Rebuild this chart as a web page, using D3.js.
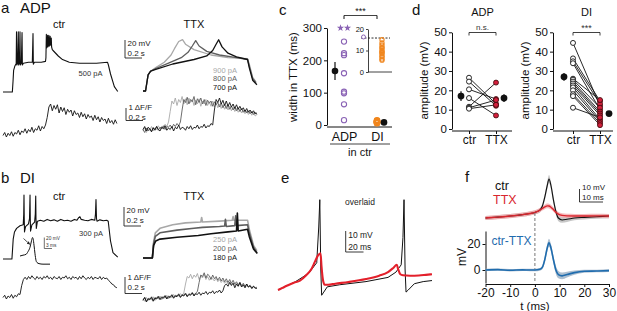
<!DOCTYPE html>
<html><head><meta charset="utf-8">
<script src="https://cdn.jsdelivr.net/npm/d3@7"></script>
<style>body{margin:0;background:#fff}svg{display:block;font-family:"Liberation Sans",Arial,sans-serif}</style>
</head><body><svg id="fig" width="617" height="311"></svg>
<script>
// ---------------- DATA ----------------
// panel a, ctr membrane potential [ms, mV above rest]
const aCtrV = [[0,0],[110,0],[118,12],[125,24],[140,29],[152,31],[155,31],[159,67],[163,30],[172,32],[180,67],[184,30],[193,32],[200,67],[204,30],[216,32],[224,66],[228,30],[240,32],[300,33],[345,33],[353,65],[357,31],[370,33],[450,33],[500,34],[505,38],[510,64],[514,49],[520,52],[525,63],[529,50],[535,53],[540,63],[544,51],[550,53],[555,62],[559,52],[564,54],[568,60],[572,50],[580,47],[600,45],[650,40],[700,36],[780,33],[900,32],[1100,32],[1230,33],[1240,30],[1265,20],[1310,6],[1350,0.5]];
// panel a, ctr calcium (dF/F, 20 ms steps)
const aCtrCa = [0.1,0.3,0.0,0.25,0.1,0.35,0.05,0.3,0.2,0.45,0.15,0.4,0.3,0.55,0.25,0.5,0.35,0.65,0.3,0.55,0.45,0.75,0.4,0.7,0.55,0.8,1.3,2.0,2.2,1.75,2.1,1.85,2.15,1.6,2.0,1.7,1.95,1.5,1.85,1.65,1.8,1.4,1.75,1.5,1.6,1.3,1.65,1.35,1.55,1.2,1.5,1.3,1.4,1.1,1.45,1.15,1.35,1.0,1.3,1.1,1.2,0.9,1.25,0.95,1.1,0.85,1.15,0.9];
// panel a, TTX membrane potential: 900, 800, 700 pA
const aTtxV900 = [[0,0],[30,0],[60,18],[90,22],[150,26],[250,32],[330,40],[370,47],[420,55],[465,57],[500,52],[600,46],[800,40],[1000,37],[1230,36],[1250,30],[1290,15],[1330,10]];
const aTtxV800 = [[0,0],[30,0],[60,18],[90,22],[150,25],[300,31],[450,37],[530,43],[580,50],[620,56],[660,50],[750,44],[900,40],[1100,37],[1230,35],[1250,28],[1290,14],[1330,9]];
const aTtxV700 = [[0,0],[30,0],[60,18],[90,22],[150,24],[350,30],[600,35],[750,39],[820,45],[860,52],[890,57],[930,49],[1000,42],[1100,38],[1230,35],[1250,26],[1290,12],[1340,7]];
// panel a, TTX calcium (20 ms steps)
const aTtxCa900 = [0.2,0.45,0.1,0.35,0.25,0.5,0.2,0.4,0.3,0.55,0.35,0.5,0.4,0.65,0.5,0.8,1.5,2.2,2.0,2.4,1.9,2.3,2.1,2.5,2.0,2.35,1.95,2.4,2.1,2.3,1.9,2.25,2.0,2.35,1.85,2.2,2.0,2.3,1.9,2.15,1.85,2.2,1.8,2.1,1.75,2.0,1.7,1.95,1.65,1.9,1.6,1.85,1.55,1.8,1.5,1.7,1.45,1.65,1.4,1.6,1.35,1.55,1.3,1.5,1.25,1.45,1.2,1.3];
const aTtxCa800 = [0.3,0.1,0.4,0.2,0.35,0.15,0.45,0.3,0.5,0.25,0.45,0.35,0.55,0.3,0.5,0.45,0.6,0.4,0.65,0.5,0.7,0.55,0.8,1.6,2.3,2.1,2.45,2.0,2.3,2.15,2.5,1.95,2.35,2.1,2.4,2.0,2.3,1.9,2.25,2.05,2.2,1.85,2.15,1.95,2.1,1.8,2.05,1.75,2.0,1.7,1.95,1.65,1.85,1.6,1.8,1.55,1.75,1.5,1.7,1.45,1.6,1.4,1.55,1.35,1.5,1.3,1.45,1.3];
const aTtxCa700 = [0.3,0.5,0.2,0.45,0.35,0.15,0.4,0.25,0.5,0.3,0.2,0.45,0.35,0.55,0.25,0.4,0.3,0.5,0.2,0.45,0.35,0.6,0.3,0.45,0.4,0.25,0.5,0.35,0.55,0.3,0.45,0.4,0.6,0.35,0.5,0.45,0.65,0.4,0.55,0.5,0.7,0.6,1.6,2.3,2.1,2.4,2.0,2.25,1.9,2.2,1.85,2.1,1.8,2.0,1.7,1.95,1.65,1.85,1.6,1.75,1.5,1.7,1.45,1.6,1.4,1.55,1.35,1.4];
// panel b, ctr membrane potential
const bCtrV = [[0,0],[105,0],[112,10],[120,22],[135,30],[160,34],[200,37],[238,38],[244,50],[247,71],[250,45],[253,30],[265,36],[300,39],[312,45],[318,71],[321,45],[324,31],[340,38],[372,41],[380,50],[385,70],[388,45],[392,34],[405,42],[440,43],[480,42],[520,44],[560,42.5],[600,43.5],[640,42],[680,44],[720,42.5],[760,43],[800,42],[840,44],[870,43],[890,46],[905,47],[920,44],[960,43],[1000,42.5],[1040,44],[1080,43],[1088,50],[1094,66],[1100,45],[1106,42],[1140,43.5],[1180,42.5],[1220,43],[1238,42],[1250,32],[1265,20],[1294,7],[1350,2]];
// panel b inset (expanded AP) [ms, mV]
const bInset = [[0,0],[3,1.5],[6,3],[8,8],[10,16],[11.5,28],[12.5,34],[13.2,31],[14,20],[15,4],[16,-8],[17,-12],[19,-14],[23,-15],[30,-15]];
// panel b, ctr calcium
const bCtrCa = [0.1,0.25,0.0,0.2,0.1,0.3,0.05,0.25,0.15,0.35,0.3,0.9,1.3,1.45,1.3,1.5,1.35,1.55,1.4,1.3,1.5,1.35,1.45,1.3,1.5,1.4,1.55,1.35,1.45,1.3,1.5,1.4,1.35,1.5,1.3,1.45,1.4,1.55,1.35,1.45,1.3,1.5,1.4,1.45,1.3,1.5,1.35,1.55,1.4,1.3,1.45,1.35,1.5,1.3,1.45,1.4,1.35,1.5,1.3,1.45,1.35,1.4,1.25,1.15,1.0,0.95,0.8,0.75];
// panel b, TTX membrane potential: 250, 200, 180 pA
const bTtxV250 = [[0,0],[110,0],[125,18],[145,28],[200,33],[350,37],[500,39],[680,40],[690,45],[700,40],[900,41],[1050,42],[1060,46],[1070,42],[1230,42],[1250,32],[1300,14],[1340,8]];
const bTtxV200 = [[0,0],[110,0],[125,16],[145,24],[200,28],[400,31],[600,33],[700,34],[900,35],[960,35.5],[970,43],[980,35],[1080,36],[1090,47],[1100,36],[1230,37],[1250,28],[1300,12],[1340,6]];
const bTtxV180 = [[0,0],[110,0],[125,14],[150,19],[200,21],[400,23],[650,25],[800,27],[1000,29],[1100,30],[1110,50],[1120,30],[1230,32],[1250,24],[1300,10],[1345,5]];
// panel b, TTX calcium
const bTtxCa250 = [0.2,0.05,0.3,0.1,0.25,0.15,0.35,0.1,0.3,0.2,0.4,0.15,0.35,0.25,0.45,0.2,0.4,0.3,0.5,0.35,0.45,0.4,0.55,0.45,0.6,1.2,1.7,1.6,1.85,1.55,1.8,1.65,1.9,1.5,1.75,1.6,1.85,1.5,1.7,1.45,1.65,1.55,1.4,1.6,1.35,1.5,1.3,1.45,1.25,1.4,1.2,1.35,1.15,1.3,1.1,1.25,1.05,1.2,1.0,1.15,0.95,1.1,1.0,1.05,0.9,1.0,0.95,0.9];
const bTtxCa200 = [0.15,0.3,0.05,0.25,0.2,0.35,0.1,0.3,0.25,0.4,0.2,0.35,0.3,0.45,0.25,0.4,0.35,0.5,0.3,0.45,0.4,0.55,0.35,0.5,0.45,0.6,0.4,0.55,0.5,0.65,0.45,0.6,0.7,1.3,1.8,1.7,1.95,1.6,1.85,1.75,1.5,1.8,1.55,1.7,1.45,1.65,1.4,1.6,1.35,1.55,1.3,1.5,1.25,1.45,1.2,1.35,1.15,1.3,1.1,1.25,1.05,1.2,1.0,1.1,0.95,1.05,0.9,1.0];
const bTtxCa180 = [0.1,0.3,0.0,0.2,0.15,0.3,0.05,0.25,0.2,0.35,0.15,0.3,0.25,0.4,0.2,0.35,0.3,0.45,0.25,0.4,0.35,0.5,0.3,0.45,0.4,0.55,0.35,0.5,0.45,0.6,0.4,0.55,0.5,0.65,0.45,0.6,0.55,0.7,0.5,0.65,0.6,0.75,0.55,0.7,0.65,0.8,0.6,0.75,1.1,1.2,1.05,1.3,1.1,1.25,0.95,1.2,1.05,1.3,1.0,1.15,0.95,1.2,1.0,1.1,0.9,1.05,0.95,0.9];
const stepsLabelsA = ["900 pA","800 pA","700 pA"];
const stepsLabelsB = ["250 pA","200 pA","180 pA"];
// panel c: width in TTX (ms)
const cAdp = [258,222,216,160,103,98,64,15];
const cAdpCapped = [300,300];
const cDi = [15,13.5,12.5,11.5,11,10,9.5,9,8.5,7.5,7,6,5.5];
const cMean = [167,8];
const cSem = [28,1];
const cCats = ["ADP","DI"];
const cTicks = [0,100,200,300];
const cInsetTicks = [0,10,20];
const cInsetAdp = [16.3];
const cThreshold = 15.8;
// panel d: amplitudes (mV)
const dAdpCtr = [26.5,24.5,20.5,16,11.5,11,10.5];
const dAdpTtx = [13,12,15.5,7,24,15,12.5];
const dDiCtr = [44.5,36.5,35,34,26,25.5,24.5,23.5,22.5,21.5,20,18,17,11];
const dDiTtx = [12,14.5,13,10,15,11,9,8,7,5,4,3,2,6];
const dAdpMean = [17,16], dAdpSem = [2.5,2];
const dDiMean = [27,8], dDiSem = [2,1];
const dCats = ["ctr","TTX"];
const dTicks = [0,10,20,30,40,50];
// panel e: overlaid traces [ms, mV]
const eCtr = [[0,0],[20,4],[35,8],[44,13],[46.3,30],[47.5,43],[48.6,10],[49.6,-2.5],[52,-1],[56,1.5],[70,2.5],[100,4],[125,6],[134,8.5],[140,12],[142,25],[143.2,43],[144.4,10],[145.5,-1],[148,0],[155,3],[165,4],[175,4.5]];
const eTtx = [[0,0],[5,1],[10,2],[18,3.5],[25,4.5],[32,7],[38,10],[42,13.5],[45.5,16.5],[48.3,17.5],[49.5,11],[51,5],[53,2.5],[57,2.5],[65,3],[80,3.8],[100,5.2],[115,6.8],[125,8.5],[131,10.5],[135,12],[136.5,10],[139,7.5],[142,7],[150,6.8],[160,6.9],[168,7.2],[175,7.5]];
// panel f: averages
const fTime = [-20,-15,-10,-5,-2,0,2,3,4,5,5.7,6.5,7.5,8.5,9.5,11,13,16,20,25,30];
const fCtr  = [0,0.7,1.5,2.6,3.5,4.3,6,9,16,25,30,25,14,5,0,-1.5,-1,0,0.5,1,1.5];
const fCtrSem=[1.5,1.5,1.5,1.5,1.5,1.5,1.7,2,2.5,3,3,3,3,2.5,2.5,2.2,2,1.8,1.6,1.6,1.6];
const fTtx  = [0,0.7,1.5,2.6,3.5,4.3,6,7.3,8.5,9.3,9.2,8.3,6.5,4.5,3,2,1.6,1.5,1.5,1.6,1.5];
const fTtxSem=[1.6,1.6,1.6,1.6,1.6,1.6,1.6,1.6,1.7,1.8,1.8,1.8,1.7,1.6,1.6,1.6,1.6,1.6,1.6,1.6,1.6];
const fDiff = [0,0.3,-0.2,0.1,0,0,0.5,2,8,17,21,17,8,0,-3.5,-4.5,-3.5,-2,-1,-0.8,-0.5];
const fDiffSem=[0.9,0.9,0.9,0.9,0.9,0.9,1,1.5,2.5,3,3,3,3,3,2.8,2.6,2.2,1.6,1.2,1,1];
const fXTicks = [-20,-10,0,10,20,30];
const fYTicks = [0,20];

// ---------------- DRAWING ----------------
const svg = d3.select("#fig");
svg.append("rect").attr("width",617).attr("height",311).attr("fill","#fff");

function txt(x,y,s,o={}){
  const t = svg.append("text").attr("x",x).attr("y",y).text(s)
    .attr("font-size",o.size||11).attr("fill",o.color||"#111")
    .attr("text-anchor",o.anchor||"start");
  if(o.rot) t.attr("transform",`rotate(${o.rot},${x},${y})`);
  return t;
}
function path(data, xs, ys, color, w, curve){
  svg.append("path").datum(data)
    .attr("d", d3.line().x(d=>xs(d[0])).y(d=>ys(d[1])).curve(curve||d3.curveLinear))
    .attr("fill","none").attr("stroke",color).attr("stroke-width",w).attr("stroke-linejoin","round");
}
function series(vals, step, xs, ys, color, w){
  svg.append("path").datum(vals)
    .attr("d", d3.line().x((d,i)=>xs(i*step)).y(d=>ys(d)))
    .attr("fill","none").attr("stroke",color).attr("stroke-width",w).attr("stroke-linejoin","round");
}
function seg(x1,y1,x2,y2,color,w,dash){
  const l=svg.append("line").attr("x1",x1).attr("y1",y1).attr("x2",x2).attr("y2",y2)
    .attr("stroke",color||"#111").attr("stroke-width",w||1);
  if(dash) l.attr("stroke-dasharray",dash);
  return l;
}
function scaleBar(x,yTop,yBot,xRight,l1,l2,y1,y2,size){
  seg(x,yTop,x,yBot,"#222",0.9); seg(x,yBot,xRight,yBot,"#222",0.9);
  txt(x+2.5,y1,l1,{size:size||8,color:"#222"}); txt(x+2.5,y2,l2,{size:size||8,color:"#222"});
}
const grays = ["#a8a8a8","#5e5e5e","#111"];

// ---- panel a ----
txt(1,13,"a",{size:15}); txt(20,13,"ADP",{size:15});
txt(59,28,"ctr",{size:11,anchor:"middle"}); txt(194,28,"TTX",{size:11,anchor:"middle"});
const xL = d3.scaleLinear().domain([0,1350]).range([3,117.75]);
const xR = d3.scaleLinear().domain([0,1350]).range([143,257.75]);
const aVy = d3.scaleLinear().domain([0,70]).range([92,29]);
const aCay = d3.scaleLinear().domain([0,2.5]).range([137,99.5]);
path(aCtrV,xL,aVy,"#111",1.1);
series(aCtrCa,20,xL,aCay,"#111",0.9);
txt(90.5,76,"500 pA",{size:7.5,anchor:"middle",color:"#333"});
const aTVy = d3.scaleLinear().domain([0,70]).range([91,28]);
const aTCay = d3.scaleLinear().domain([0,2.5]).range([134,96.5]);
[aTtxV900,aTtxV800,aTtxV700].forEach((d,i)=>path(d,xR,aTVy,grays[i],1.3));
[aTtxCa900,aTtxCa800,aTtxCa700].forEach((d,i)=>series(d,20,xR,aTCay,grays[i],0.9));
stepsLabelsA.forEach((s,i)=>txt(225,72.5+i*8.7,s,{size:7.5,anchor:"middle",color:grays[i]}));
scaleBar(125,40,58,142,"20 mV","0.2 s",46,56);
scaleBar(126,108,120.5,143,"1 \u0394F/F","0.2 s",110,119.5);

// ---- panel b ----
txt(1,183,"b",{size:15}); txt(20,183,"DI",{size:15});
txt(59,200,"ctr",{size:11,anchor:"middle"}); txt(194,200,"TTX",{size:11,anchor:"middle"});
const bVy = d3.scaleLinear().domain([0,70]).range([259,196]);
const bCay = d3.scaleLinear().domain([0,2]).range([299,269]);
path(bCtrV,xL,bVy,"#111",1.1);
series(bCtrCa,20,xL,bCay,"#111",0.9);
txt(91,236,"300 pA",{size:7.5,anchor:"middle",color:"#333"});
const insX = d3.scaleLinear().domain([0,30]).range([20,50]);
const insY = d3.scaleLinear().domain([0,34]).range([256,237.5]);
path(bInset,insX,insY,"#111",1,d3.curveMonotoneX);
svg.append("defs").append("marker").attr("id","arr").attr("viewBox","0 0 10 10").attr("refX",9).attr("refY",5)
  .attr("markerWidth",4).attr("markerHeight",4).attr("orient","auto")
  .append("path").attr("d","M0,0L10,5L0,10z").attr("fill","#222");
seg(23.5,238.5,29.8,244.3,"#222",0.8).attr("marker-end","url(#arr)");
seg(44.3,237.5,44.3,248.5,"#333",0.7); seg(44.3,248.5,52,248.5,"#333",0.7);
txt(46,240,"20 mV",{size:4.8,color:"#333"}); txt(46,246.5,"3 ms",{size:4.8,color:"#333"});
const bTVy = d3.scaleLinear().domain([0,70]).range([258,195]);
const bTCay = d3.scaleLinear().domain([0,2]).range([302,272]);
[bTtxV250,bTtxV200,bTtxV180].forEach((d,i)=>path(d,xR,bTVy,grays[i],1.6));
[bTtxCa250,bTtxCa200,bTtxCa180].forEach((d,i)=>series(d,20,xR,bTCay,grays[i],0.9));
stepsLabelsB.forEach((s,i)=>txt(225,242+i*9,s,{size:7.5,anchor:"middle",color:grays[i]}));
scaleBar(124,207,226,141,"20 mV","0.2 s",212.5,222.5);
scaleBar(125,277,293.5,142,"1 \u0394F/F","0.2 s",279.5,290);

// ---- panel c ----
txt(279,15,"c",{size:15});
const cY = d3.scaleLinear().domain([0,300]).range([125,28]);
const cX = d3.scalePoint().domain(cCats).range([344,377]);
const gcy = svg.append("g").attr("transform","translate(327,0)")
  .call(d3.axisLeft(cY).tickValues(cTicks).tickSize(3).tickSizeOuter(0).tickPadding(2));
gcy.selectAll("text").attr("font-size",11.5).attr("font-family","Liberation Sans, Arial, sans-serif").attr("fill","#111");
gcy.selectAll("line,path").attr("stroke","#111");
const gcx = svg.append("g").attr("transform","translate(0,127)")
  .call(d3.axisBottom(cX).tickSize(0).tickPadding(5));
gcx.select(".domain").remove();
gcx.selectAll("text").attr("font-size",12.5).attr("font-family","Liberation Sans, Arial, sans-serif").attr("fill","#111");
seg(327,127,392,127,"#111",1);
txt(297,77,"width in TTX (ms)",{size:11.5,anchor:"middle",rot:-90});
seg(330,144,390,144,"#111",0.8);
txt(360,156,"in ctr",{size:11,anchor:"middle"});
seg(344,15.5,377,15.5,"#111",0.8); seg(344,15.5,344,19); seg(377,15.5,377,19);
txt(360.5,14,"***",{size:9,anchor:"middle"});
const purple="#8a63b5", orange="#f0861e";
svg.selectAll(".cadp").data(cAdp).enter().append("circle")
  .attr("cx",cX("ADP")).attr("cy",d=>cY(d)).attr("r",2.6).attr("fill","none").attr("stroke",purple).attr("stroke-width",1.1);
svg.selectAll(".cstar").data(cAdpCapped).enter().append("path")
  .attr("transform",(d,i)=>`translate(${cX("ADP")-3.5+i*7},${cY(d)})`)
  .attr("d",d3.symbol(d3.symbolStar,16)).attr("fill",purple);
svg.selectAll(".cdi").data(cDi).enter().append("circle")
  .attr("cx",cX("DI")).attr("cy",d=>cY(d)).attr("r",2.6).attr("fill","none").attr("stroke",orange).attr("stroke-width",1.3);
const cMX=[335,384];
cMean.forEach((m,i)=>{
  seg(cMX[i],cY(m+cSem[i]),cMX[i],cY(m-cSem[i]),"#111",1.2);
  svg.append("circle").attr("cx",cMX[i]).attr("cy",cY(m)).attr("r",3.3).attr("fill","#111");
});
const ciY = d3.scaleLinear().domain([0,20]).range([72,29]);
const gci = svg.append("g").attr("transform","translate(368,0)")
  .call(d3.axisLeft(ciY).tickValues(cInsetTicks).tickSize(2).tickSizeOuter(0).tickPadding(2));
gci.selectAll("text").attr("font-size",7.5).attr("font-family","Liberation Sans, Arial, sans-serif").attr("fill","#111");
gci.selectAll("line,path").attr("stroke","#111").attr("stroke-width",0.8);
seg(368,72,392,72,"#111",0.8);
seg(361,ciY(cThreshold),390,ciY(cThreshold),"#111",0.9,"2,1.5");
svg.selectAll(".ciadp").data(cInsetAdp).enter().append("circle")
  .attr("cx",363.5).attr("cy",d=>ciY(d)).attr("r",2).attr("fill","#fff").attr("stroke",purple).attr("stroke-width",1);
svg.selectAll(".cidi").data(cDi).enter().append("circle")
  .attr("cx",382).attr("cy",d=>ciY(d)).attr("r",2.1).attr("fill","none").attr("stroke",orange).attr("stroke-width",1.1);

// ---- panel d ----
txt(412,15,"d",{size:15});
function dPanel(ax, xc, xt, xme, ctr, ttx, mean, sem, title, sigTxt){
  const y = d3.scaleLinear().domain([0,50]).range([129,32.3]);
  const x = d3.scalePoint().domain(dCats).range([xc,xt]);
  const gy = svg.append("g").attr("transform",`translate(${ax},0)`)
    .call(d3.axisLeft(y).tickValues(dTicks).tickSize(3).tickSizeOuter(0).tickPadding(2));
  gy.selectAll("text").attr("font-size",11.5).attr("font-family","Liberation Sans, Arial, sans-serif").attr("fill","#111");
  gy.selectAll("line,path").attr("stroke","#111");
  seg(ax,131,ax+60,131,"#111",1);
  const gx = svg.append("g").attr("transform","translate(0,131)")
    .call(d3.axisBottom(x).tickSize(3).tickPadding(1.5));
  gx.select(".domain").remove();
  gx.selectAll("line").attr("stroke","#111");
  gx.selectAll("text").attr("font-size",12).attr("font-family","Liberation Sans, Arial, sans-serif").attr("fill","#111");
  txt(ax-24,80.5,"amplitude (mV)",{size:11.5,anchor:"middle",rot:-90});
  txt((xc+xt)/2,16,title,{size:11,anchor:"middle"});
  seg(xc,32.5,xt,32.5,"#111",0.8); seg(xc,32.5,xc,35.5,"#111",0.8); seg(xt,32.5,xt,35.5,"#111",0.8);
  txt((xc+xt)/2,sigTxt==="n.s."?29.5:31,sigTxt,{size:sigTxt==="n.s."?8:9,anchor:"middle",color:"#333"});
  ctr.forEach((v,i)=>seg(x("ctr"),y(v),x("TTX"),y(ttx[i]),"#111",0.9));
  svg.selectAll(null).data(ctr).enter().append("circle").attr("cx",x("ctr")).attr("cy",d=>y(d)).attr("r",2.5)
    .attr("fill","#fff").attr("stroke","#111").attr("stroke-width",0.9);
  svg.selectAll(null).data(ttx).enter().append("circle").attr("cx",x("TTX")).attr("cy",d=>y(d)).attr("r",2.5)
    .attr("fill","#d21f3c").attr("stroke","#3a0a0a").attr("stroke-width",0.8);
  mean.forEach((m,i)=>{
    seg(xme[i],y(m+sem[i]),xme[i],y(m-sem[i]),"#111",1.2);
    svg.append("circle").attr("cx",xme[i]).attr("cy",y(m)).attr("r",3.4).attr("fill","#111");
  });
}
dPanel(452,469,496,[461,504],dAdpCtr,dAdpTtx,dAdpMean,dAdpSem,"ADP","n.s.");
dPanel(553,573,600,[564,609],dDiCtr,dDiTtx,dDiMean,dDiSem,"DI","***");

// ---- panel e ----
txt(281,183,"e",{size:15});
const eX = d3.scaleLinear().domain([0,175]).range([278,432]);
const eY = d3.scaleLinear().domain([0,43]).range([290,199.7]);
path(eCtr,eX,eY,"#111",1);
path(eTtx,eX,eY,"#e3202b",2.1,d3.curveMonotoneX);
txt(360,205,"overlaid",{size:8.5,anchor:"middle",color:"#222"});
scaleBar(345.7,231,252,363.5,"10 mV","20 ms",237.5,249.5,8.5);

// ---- panel f ----
txt(465,182,"f",{size:15});
const fX = d3.scaleLinear().domain([-20,30]).range([485.5,609]);
const fYt = d3.scaleLinear().domain([0,30]).range([218,179]);
const fYb = d3.scaleLinear().domain([-10,30]).range([283,231]);
const band = (m,s,ys)=>d3.area().x((d,i)=>fX(fTime[i])).y0((d,i)=>ys(m[i]-s[i])).y1((d,i)=>ys(m[i]+s[i])).curve(d3.curveMonotoneX);
const mline = (m,ys)=>d3.line().x((d,i)=>fX(fTime[i])).y((d,i)=>ys(m[i])).curve(d3.curveMonotoneX);
svg.append("path").datum(fCtr).attr("d",band(fCtr,fCtrSem,fYt)).attr("fill","#b9b9b9").attr("opacity",0.8);
svg.append("path").datum(fTtx).attr("d",band(fTtx,fTtxSem,fYt)).attr("fill","#f4a3a6").attr("opacity",0.75);
svg.append("path").datum(fCtr).attr("d",mline(fCtr,fYt)).attr("fill","none").attr("stroke","#111").attr("stroke-width",1.1);
svg.append("path").datum(fTtx).attr("d",mline(fTtx,fYt)).attr("fill","none").attr("stroke","#d9262e").attr("stroke-width",1.4);
txt(495,190,"ctr",{size:12.5}); txt(493,203.5,"TTX",{size:12.5,color:"#d9262e"});
scaleBar(579.5,189,202,603,"10 mV","10 ms",190,199.5,8);
seg(fX(0),213,fX(0),283,"#777",1,"3,2");
const gfy = svg.append("g").attr("transform","translate(485.5,0)")
  .call(d3.axisLeft(fYb).tickValues(fYTicks).tickSize(3).tickSizeOuter(0).tickPadding(2));
const gfx = svg.append("g").attr("transform","translate(0,284)")
  .call(d3.axisBottom(fX).tickValues(fXTicks).tickSize(3).tickSizeOuter(0).tickPadding(1));
[gfy,gfx].forEach(g=>{g.selectAll("text").attr("font-size",12).attr("font-family","Liberation Sans, Arial, sans-serif").attr("fill","#111");
  g.selectAll("line,path").attr("stroke","#111");});
gfx.selectAll("text").text(d=>d<0?"-"+Math.abs(d):d);
svg.append("path").datum(fDiff).attr("d",band(fDiff,fDiffSem,fYb)).attr("fill","#9fb4c8").attr("opacity",0.85);
svg.append("path").datum(fDiff).attr("d",mline(fDiff,fYb)).attr("fill","none").attr("stroke","#1f6cae").attr("stroke-width",1.6);
txt(491.5,245,"ctr-TTX",{size:12,color:"#1f6cae"});
txt(466,257,"mV",{size:12,anchor:"middle",rot:-90});
txt(fX(0),309.5,"t (ms)",{size:11.5,anchor:"middle"});
</script></body></html>
